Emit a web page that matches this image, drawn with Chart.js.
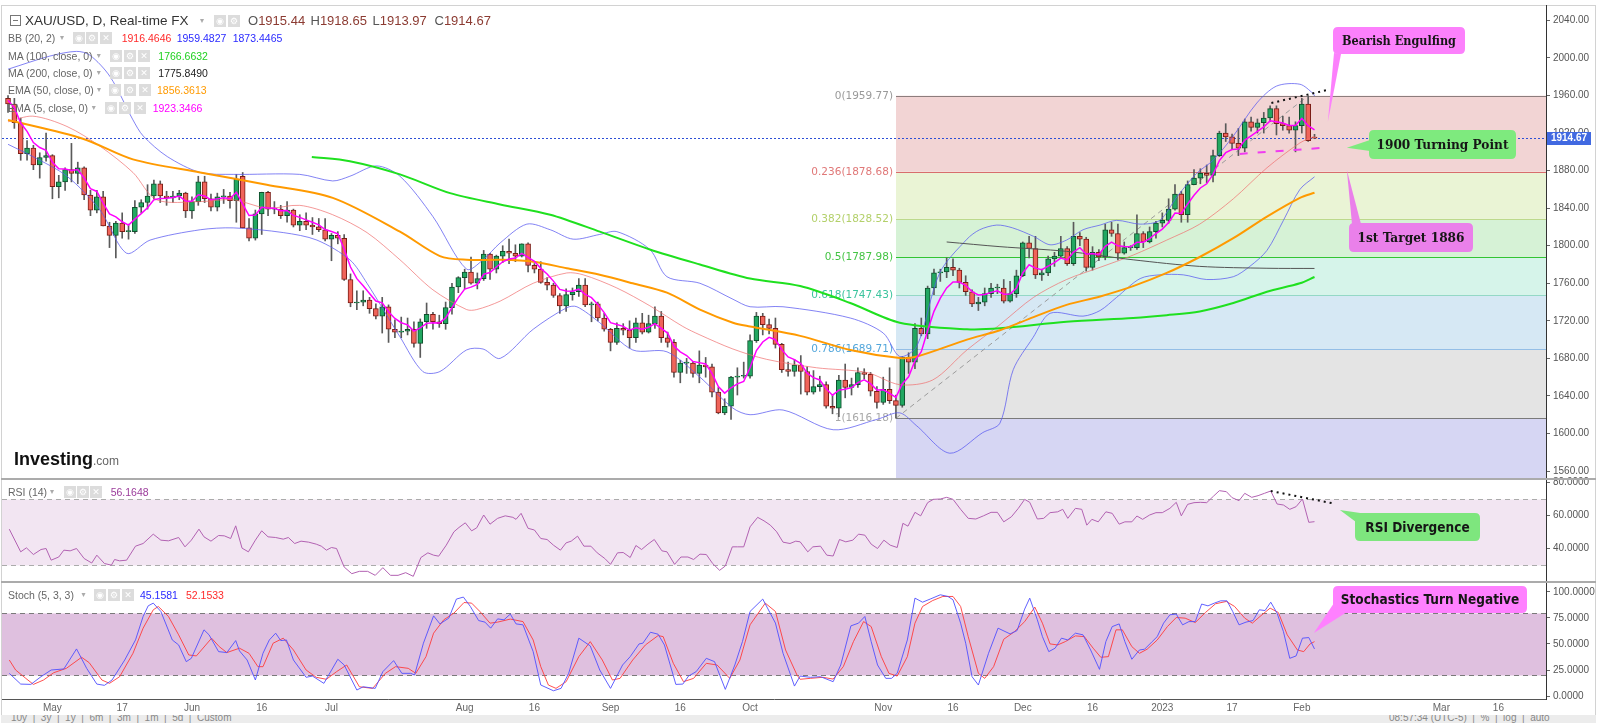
<!DOCTYPE html>
<html>
<head>
<meta charset="utf-8">
<title>XAU/USD Daily</title>
<script src="https://cdn.jsdelivr.net/npm/chart.js@4.4.1/dist/chart.umd.min.js"></script>
<style>
  html, body { margin: 0; padding: 0; background: #fff; }
  body { position: relative; width: 1600px; height: 723px; overflow: hidden; font-family: "Liberation Sans", Arial, sans-serif; }
  canvas { position: absolute; left: 0; }
  .frame { position: absolute; left: 1px; top: 5px; width: 1595px; height: 711px; border: 1px solid #d2d2d2; box-sizing: border-box; }
  .sep { position: absolute; left: 1px; width: 1595px; height: 2px; background: #ababab; }
  .lg { position: absolute; white-space: nowrap; font-size: 10.5px; line-height: 14px; color: #666; }
  .ic { position: absolute; width: 12px; height: 12px; background: #dcdcdc; color: #fff; font-size: 9px; line-height: 12px; text-align: center; font-family: "DejaVu Sans", sans-serif; }
  .dd { position: absolute; font-size: 8px; line-height: 14px; color: #aaa; font-family: "DejaVu Sans", sans-serif; }
  .toolbar { position: absolute; left: 1px; top: 715px; width: 1595px; height: 8px; background: #ececec; overflow: hidden; font-size: 10px; color: #888; }
</style>
</head>
<body>
<div class="frame"></div>
<canvas id="priceChart" width="1600" height="480" style="top:0px"></canvas>
<canvas id="rsiChart" width="1600" height="111" style="top:470px"></canvas>
<canvas id="stochChart" width="1600" height="143" style="top:573px"></canvas>
<div class="sep" style="top:478px"></div>
<div class="sep" style="top:581px"></div>
<div class="toolbar">
  <span style="position:absolute;left:10px;top:-3px">10y &nbsp;|&nbsp; 3y &nbsp;|&nbsp; 1y &nbsp;|&nbsp; 6m &nbsp;|&nbsp; 3m &nbsp;|&nbsp; 1m &nbsp;|&nbsp; 5d &nbsp;|&nbsp; Custom</span>
  <span style="position:absolute;left:1388px;top:-3px">08:57:34 (UTC-5) &nbsp;|&nbsp; % &nbsp;|&nbsp; log &nbsp;|&nbsp; auto</span>
</div>
<script>
// ---------- data: daily candles, 21 Apr 2022 -> 3 Feb 2023 ----------
const dates = [
  '2022-04-21','2022-04-22','2022-04-25','2022-04-26','2022-04-27','2022-04-28','2022-04-29',
  '2022-05-02','2022-05-03','2022-05-04','2022-05-05','2022-05-06','2022-05-09','2022-05-10','2022-05-11','2022-05-12','2022-05-13',
  '2022-05-16','2022-05-17','2022-05-18','2022-05-19','2022-05-20','2022-05-23','2022-05-24','2022-05-25','2022-05-26','2022-05-27','2022-05-30','2022-05-31',
  '2022-06-01','2022-06-02','2022-06-03','2022-06-06','2022-06-07','2022-06-08','2022-06-09','2022-06-10','2022-06-13','2022-06-14','2022-06-15',
  '2022-06-16','2022-06-17','2022-06-20','2022-06-21','2022-06-22','2022-06-23','2022-06-24','2022-06-27','2022-06-28','2022-06-29','2022-06-30',
  '2022-07-01','2022-07-04','2022-07-05','2022-07-06','2022-07-07','2022-07-08','2022-07-11','2022-07-12','2022-07-13','2022-07-14','2022-07-15',
  '2022-07-18','2022-07-19','2022-07-20','2022-07-21','2022-07-22','2022-07-25','2022-07-26','2022-07-27','2022-07-28','2022-07-29',
  '2022-08-01','2022-08-02','2022-08-03','2022-08-04','2022-08-05','2022-08-08','2022-08-09','2022-08-10','2022-08-11','2022-08-12','2022-08-15','2022-08-16',
  '2022-08-17','2022-08-18','2022-08-19','2022-08-22','2022-08-23','2022-08-24','2022-08-25','2022-08-26','2022-08-29','2022-08-30','2022-08-31',
  '2022-09-01','2022-09-02','2022-09-05','2022-09-06','2022-09-07','2022-09-08','2022-09-09','2022-09-12','2022-09-13','2022-09-14','2022-09-15',
  '2022-09-16','2022-09-19','2022-09-20','2022-09-21','2022-09-22','2022-09-23','2022-09-26','2022-09-27','2022-09-28','2022-09-29','2022-09-30',
  '2022-10-03','2022-10-04','2022-10-05','2022-10-06','2022-10-07','2022-10-10','2022-10-11','2022-10-12','2022-10-13','2022-10-14','2022-10-17',
  '2022-10-18','2022-10-19','2022-10-20','2022-10-21','2022-10-24','2022-10-25','2022-10-26','2022-10-27','2022-10-28','2022-10-31',
  '2022-11-01','2022-11-02','2022-11-03','2022-11-04','2022-11-07','2022-11-08','2022-11-09','2022-11-10','2022-11-11','2022-11-14','2022-11-15',
  '2022-11-16','2022-11-17','2022-11-18','2022-11-21','2022-11-22','2022-11-23','2022-11-24','2022-11-25','2022-11-28','2022-11-29','2022-11-30',
  '2022-12-01','2022-12-02','2022-12-05','2022-12-06','2022-12-07','2022-12-08','2022-12-09','2022-12-12','2022-12-13','2022-12-14','2022-12-15',
  '2022-12-16','2022-12-19','2022-12-20','2022-12-21','2022-12-22','2022-12-23','2022-12-26','2022-12-27','2022-12-28','2022-12-29','2022-12-30',
  '2023-01-02','2023-01-03','2023-01-04','2023-01-05','2023-01-06','2023-01-09','2023-01-10','2023-01-11','2023-01-12','2023-01-13','2023-01-16',
  '2023-01-17','2023-01-18','2023-01-19','2023-01-20','2023-01-23','2023-01-24','2023-01-25','2023-01-26','2023-01-27','2023-01-30','2023-01-31',
  '2023-02-01','2023-02-02','2023-02-03'
];

const opens = [
  1957,1951,1931,1898,1904,1886,1894,1896,1863,1868,
  1881,1877,1883,1854,1838,1852,1821,1811,1824,1815,
  1815,1841,1846,1853,1866,1853,1851,1853,1856,1837,
  1847,1868,1850,1841,1852,1853,1848,1874,1819,1808,
  1834,1857,1839,1839,1832,1838,1822,1826,1822,1820,
  1817,1807,1811,1808,1764,1739,1740,1742,1733,1725,
  1735,1711,1708,1709,1711,1696,1719,1727,1719,1717,
  1734,1756,1766,1772,1760,1765,1791,1775,1789,1794,
  1792,1789,1802,1779,1775,1761,1758,1747,1736,1748,
  1751,1758,1737,1738,1723,1711,1697,1712,1710,1702,
  1718,1708,1717,1725,1702,1697,1665,1675,1675,1664,
  1673,1671,1644,1622,1629,1660,1661,1661,1699,1725,
  1716,1712,1695,1668,1666,1673,1666,1644,1650,1652,
  1629,1627,1657,1649,1652,1665,1663,1645,1633,1647,
  1635,1630,1681,1676,1712,1706,1755,1771,1772,1777,
  1774,1761,1751,1738,1740,1749,1755,1755,1741,1749,
  1768,1803,1797,1769,1771,1786,1789,1797,1781,1810,
  1807,1777,1793,1788,1817,1813,1792,1798,1798,1813,
  1804,1815,1824,1827,1839,1855,1833,1865,1872,1877,
  1875,1896,1920,1916,1909,1904,1932,1926,1931,1936,
  1946,1930,1928,1923,1928,1951,1915.44
];
const highs = [
  1960,1957,1936,1912,1907,1899,1920,1897,1875,1883,
  1909,1889,1884,1859,1859,1858,1825,1826,1835,1823,
  1848,1849,1865,1870,1869,1858,1858,1859,1857,1852,
  1874,1874,1855,1856,1860,1857,1876,1878,1829,1838,
  1857,1858,1847,1843,1847,1839,1833,1835,1830,1829,
  1829,1813,1815,1812,1770,1752,1752,1745,1738,1745,
  1737,1721,1724,1723,1719,1722,1739,1729,1726,1740,
  1760,1767,1775,1788,1771,1795,1792,1790,1800,1807,
  1801,1802,1803,1781,1783,1766,1760,1749,1754,1755,
  1765,1765,1740,1740,1728,1712,1718,1717,1720,1723,
  1728,1726,1735,1730,1708,1700,1678,1680,1677,1688,
  1681,1674,1649,1637,1661,1670,1676,1705,1729,1728,
  1722,1723,1696,1676,1679,1683,1671,1667,1661,1655,
  1641,1662,1674,1659,1670,1669,1665,1650,1660,1670,
  1641,1682,1686,1717,1723,1757,1775,1775,1787,1786,
  1776,1768,1753,1745,1755,1760,1759,1764,1762,1774,
  1804,1810,1810,1775,1789,1793,1810,1799,1825,1814,
  1809,1799,1796,1823,1825,1823,1804,1800,1833,1815,
  1820,1826,1835,1850,1865,1858,1869,1881,1882,1886,
  1902,1922,1930,1919,1925,1935,1937,1935,1942,1949,
  1949,1938,1937,1932,1957,1959.77,1918.65
];
const lows = [
  1942,1925,1891,1891,1881,1872,1890,1850,1851,1859,
  1868,1866,1849,1832,1835,1821,1798,1787,1808,1807,
  1813,1835,1839,1850,1846,1843,1846,1849,1830,1829,
  1843,1846,1837,1837,1845,1840,1825,1819,1805,1806,
  1812,1832,1834,1829,1825,1820,1816,1817,1812,1815,
  1805,1784,1802,1763,1735,1732,1736,1728,1722,1707,
  1697,1702,1702,1705,1692,1681,1712,1711,1713,1711,
  1727,1750,1754,1759,1754,1763,1764,1771,1782,1781,
  1783,1788,1772,1771,1760,1753,1745,1728,1730,1742,
  1746,1735,1719,1720,1709,1688,1695,1705,1691,1697,
  1706,1707,1712,1697,1692,1660,1654,1664,1660,1654,
  1660,1639,1621,1620,1615,1641,1659,1659,1697,1705,
  1706,1691,1665,1661,1661,1642,1641,1642,1645,1627,
  1621,1618,1638,1641,1649,1658,1640,1627,1631,1632,
  1616.2,1628,1664,1669,1704,1701,1748,1762,1766,1768,
  1755,1747,1735,1731,1736,1745,1749,1739,1740,1745,
  1767,1787,1765,1763,1768,1778,1787,1779,1779,1800,
  1773,1774,1784,1785,1810,1785,1791,1795,1796,1798,
  1803,1808,1820,1824,1838,1825,1825,1865,1866,1867,
  1868,1895,1911,1903,1896,1900,1922,1920,1920,1932,
  1918,1923,1920,1900,1920,1911,1913.97
];
const closes = [
  1951,1931,1898,1904,1886,1894,1896,1863,1868,1881,
  1877,1883,1854,1838,1852,1821,1811,1824,1815,1815,
  1841,1846,1853,1866,1853,1851,1853,1856,1837,1847,
  1868,1850,1841,1852,1853,1848,1871,1819,1808,1834,
  1857,1839,1839,1832,1838,1822,1826,1822,1820,1817,
  1807,1811,1808,1764,1739,1740,1742,1733,1725,1735,
  1711,1708,1709,1711,1696,1719,1727,1719,1717,1734,
  1756,1766,1772,1760,1765,1791,1775,1789,1794,1792,
  1789,1802,1779,1775,1761,1758,1747,1736,1748,1751,
  1758,1737,1738,1723,1711,1697,1712,1710,1702,1718,
  1708,1717,1725,1702,1697,1665,1675,1675,1664,1673,
  1671,1644,1622,1629,1660,1661,1661,1699,1725,1716,
  1712,1695,1668,1666,1673,1666,1644,1650,1652,1629,
  1627,1657,1649,1652,1665,1663,1645,1633,1647,1635,
  1630,1681,1676,1712,1706,1755,1771,1772,1777,1774,
  1761,1751,1738,1740,1749,1755,1755,1741,1749,1768,
  1803,1797,1769,1771,1786,1789,1797,1781,1810,1807,
  1777,1793,1788,1817,1813,1792,1798,1798,1813,1804,
  1815,1824,1827,1839,1855,1833,1865,1872,1877,1875,
  1896,1920,1916,1909,1904,1932,1926,1931,1936,1946,
  1930,1928,1923,1928,1951,1912,1914.67
];

// EMA(5), one value per candle
const ema5 = [
  1955,1947,1930.7,1921.8,1909.9,1904.6,1901.7,1888.8,1881.9,1881.6,
  1880.1,1881.1,1872.1,1860.7,1857.8,1845.5,1834,1830.7,1825.5,1822,
  1828.3,1834.2,1840.5,1849,1850.3,1850.5,1851.3,1852.9,1847.6,1847.4,
  1854.3,1852.9,1848.9,1849.9,1851,1850,1857,1844.3,1832.2,1832.8,
  1840.9,1840.3,1839.8,1837.2,1837.5,1832.3,1830.2,1827.5,1825,1822.3,
  1817.2,1815.1,1812.7,1796.5,1777.3,1764.9,1757.3,1749.2,1741.1,1739.1,
  1729.7,1722.5,1718,1715.7,1709.1,1712.4,1717.3,1717.9,1717.6,1723.1,
  1734,1744.7,1753.8,1755.9,1758.9,1769.6,1771.4,1777.3,1782.9,1785.9,
  1786.9,1791.9,1787.6,1783.4,1775.9,1769.9,1762.3,1753.5,1751.7,1751.5,
  1753.7,1748.1,1744.7,1737.5,1728.7,1718.1,1716.1,1714.1,1710,1712.7,
  1711.1,1713.1,1717.1,1712,1707,1693,1687,1683,1676.7,1675.5,
  1674,1664,1650,1643,1648.7,1652.8,1655.5,1670,1688.3,1697.5,
  1702.4,1699.9,1689.3,1681.5,1678.7,1674.5,1664.3,1659.5,1657,1647.7,
  1640.8,1646.2,1647.1,1648.8,1654.2,1657.1,1653.1,1646.4,1646.6,1642.7,
  1638.5,1652.7,1660.4,1677.6,1687.1,1709.7,1730.1,1744.1,1755.1,1761.4,
  1761.3,1757.9,1751.2,1747.5,1748,1750.3,1751.9,1748.3,1748.5,1755,
  1771,1779.7,1776.1,1774.4,1778.3,1781.9,1786.9,1784.9,1793.3,1797.9,
  1790.9,1791.6,1790.4,1799.3,1803.9,1799.9,1799.3,1798.9,1803.6,1803.7,
  1807.5,1813,1817.7,1824.8,1834.9,1834.3,1844.5,1853.7,1861.5,1866,
  1876,1890.7,1899.1,1902.4,1902.9,1912.6,1917.1,1921.7,1926.5,1933,
  1932,1930.7,1928.1,1928.1,1935.7,1927.8,1923.3
];

// overlay lines read at sample points: [candle index, value]
const bbUpper = [[0,1988],[6.6,2002],[10.8,2007],[12.9,2003],[16.1,1980],[19.7,1934],[21.3,1917],[25.1,1895],[30.3,1878],[35.5,1876],
  [46,1876],[51.2,1869],[53.9,1874],[58.1,1885],[61.8,1874],[67,1831],[72.3,1775],[74.9,1785],[77.6,1803],[81.8,1823],[85.5,1817],
  [89.1,1807],[93.3,1812],[96,1815],[101.2,1796],[103.9,1767],[109.1,1760],[114.3,1743],[117,1735],[122.2,1735],[132.8,1723],
  [138,1707],[140.6,1682],[143.3,1693],[146.9,1771],[151.2,1807],[153.2,1817],[155.9,1822],[158.4,1819],[161.7,1810],[164.3,1801],
  [166.9,1806],[169.5,1817],[172.2,1822],[174.8,1827],[178.5,1823],[181.6,1827],[184.3,1852],[187.4,1877],[190,1891],[193.1,1916],
  [196.9,1952],[200,1970],[203.7,1972],[205.8,1962],[206,1959.5]];
const bbMid = [[0,1932],[3.9,1938],[9.3,1927],[14.5,1906],[19.7,1878],[23.4,1849],[30.3,1847],[35.5,1849],[40.8,1840],[46,1843],
  [51.2,1833],[56.6,1814],[61.8,1785],[67,1753],[72.3,1732],[73.9,1732],[77.6,1741],[82.8,1760],[88.1,1771],[90.7,1769],[96,1755],
  [101.2,1736],[106.4,1714],[109.1,1705],[114.3,1690],[119.6,1679],[127.5,1670],[135.4,1665],[140.6,1652],[145.8,1657],[151.2,1689],
  [156.4,1716],[161.7,1745],[166.9,1764],[172.2,1777],[177.4,1790],[182.7,1806],[187.9,1823],[193.2,1850],[198.5,1883],[203.7,1909.5],[206,1916.5]];
const bbLower = [[0,1908],[3.9,1895],[9.3,1874],[14.5,1838],[18.7,1792],[22.4,1806],[30.3,1817],[35.5,1819],[43.4,1814],[48.7,1806],
  [53.9,1785],[56.6,1760],[61.8,1703],[65.4,1666],[68.1,1666],[72.3,1689],[74.9,1690],[77.6,1680],[82.8,1711],[88.1,1734],[89.7,1735],
  [93.3,1718],[98.5,1689],[103.9,1687],[109.1,1660],[114.3,1627],[117,1620],[122.2,1625],[130.1,1604],[137,1615],[140.6,1622],
  [143.3,1608],[148.5,1579],[153.7,1601],[156.4,1611],[158.5,1668],[161.6,1702],[164.3,1728],[169.5,1725],[172.2,1731],[174.8,1745],
  [178.5,1765],[181.6,1769],[185.3,1769],[189,1764],[193.2,1767],[195.8,1778],[198.5,1795],[201.1,1827],[203.7,1860],[206,1873.4]];
const ma100 = [[47.9,1894.6],[53.9,1890],[61.8,1876],[69.7,1856],[77.6,1844],[85.5,1833],[93.3,1815],[101.2,1796],[109.1,1780],[117,1765],
  [124.9,1757],[132.8,1739],[140.6,1718],[151.2,1711],[156.4,1712],[166.9,1719],[177.4,1723],[182.7,1726],[187.9,1730],[193.2,1739],
  [198.5,1751],[203.7,1760],[206,1766.7]];
const ma200 = [[148,1804],[156.4,1799],[166.9,1794],[177.4,1785],[187.9,1778],[198.5,1776],[206,1775.8]];
const ema50 = [[0,1934],[11.8,1914],[19.7,1892],[30.3,1878],[40.8,1865],[51.2,1851],[61.8,1815],[68.1,1789],[72.3,1785],[77.6,1785],
  [82.8,1783],[88.1,1776],[93.3,1769],[98.5,1760],[103.9,1750],[109.1,1732],[114.3,1718],[117,1714],[124.9,1704],[132.8,1689],
  [140.6,1680.5],[143.3,1682],[151.2,1700],[156.4,1710],[161.7,1724],[166.9,1737],[172.2,1746],[177.4,1757],[182.7,1771],[187.9,1788],
  [193.2,1808],[198.5,1831],[203.7,1851],[206,1856.4]];

// RSI(14)
const rsi = [[0.2,51.7],[2,38.1],[2.9,40.5],[4,36.5],[5.2,39.5],[6,40.1],[6.8,33.1],[8,35],[8.8,39.1],[9.8,38.7],[10.8,40.1],[12,34.1],
  [13.2,31.4],[14,36.1],[15.2,31.1],[16.3,30.1],[16.8,33.5],[17.6,32.7],[18.7,33.1],[20.1,41.5],[21.3,43.1],[22.9,48.7],[24.1,45.1],
  [25.3,44.7],[26.9,46.7],[27.9,41.1],[28.9,45.1],[30.1,51.7],[30.9,47.1],[32,44.5],[33.2,47.9],[34.1,47.7],[35.1,46.1],[35.9,53.7],
  [36.9,40.3],[37.9,38.1],[39,45.1],[40,50.7],[41,47.1],[42.2,46.7],[43.4,45.7],[44.2,46.7],[45.2,43.1],[46.2,44.5],[47.4,43.9],
  [48.6,42.7],[49.4,41.5],[50.2,39.1],[51,40.7],[51.8,40.1],[53,29],[54.2,25],[55.4,26.4],[56.7,26.4],[57.9,24],[59.1,28.6],[60.3,24],
  [61.5,24],[62.7,25.6],[63.9,23.4],[65.1,34.7],[66.2,37.5],[67.1,36.1],[67.9,35.5],[69.1,42.1],[70.3,50.1],[71.1,52.7],[72.1,55.5],
  [73.1,50.7],[73.9,52.5],[75,60.2],[76,54.7],[77.2,58.2],[78.4,59.7],[79.6,58.8],[80.1,57.6],[80.9,61.2],[82,52.2],[83,51.2],[84,46.1],
  [85,45.5],[86,42.1],[87.1,39.1],[88,43.5],[88.8,44.5],[89.8,47.5],[90.8,41.5],[91.9,41.5],[92.9,37.5],[94.1,34.1],[95,30.6],[96.1,37.5],
  [97,37.7],[98.1,34.7],[99,41.9],[99.9,39.5],[100.9,42.7],[101.9,45.5],[103.1,38.7],[103.9,38.1],[105.1,30.6],[106.1,35],[107.2,35],
  [108.1,33.5],[109.1,36.7],[110.1,36.5],[111.1,31.1],[112.2,27],[113.1,29.6],[114.2,41.1],[115,41.1],[116,41.1],[117,53.1],[118.2,58.8],
  [119.2,56.7],[120.2,54.1],[121.2,50.1],[122.2,43.9],[123.3,43.1],[124.2,44.5],[124.9,44.1],[126.1,38.1],[126.9,41.1],[128.1,41.5],
  [129.1,36.1],[130.1,35.6],[131.1,45.5],[132.1,44.1],[133.2,45.1],[134.1,48.7],[135.1,48.1],[136.1,42.7],[137.1,40.1],[138.1,45.1],
  [139.1,42.1],[140.2,40.7],[141.1,55.2],[141.9,53.5],[143,61.8],[143.9,59.7],[145,67.6],[145.9,69.6],[147,69.8],[148,70.8],[149,69.6],
  [150.2,63.6],[151.4,58.2],[152.6,57.8],[153.8,59.7],[155,61.8],[156,61.8],[157,56.1],[158.2,59.1],[159.3,64.2],[160.3,69.6],[161.1,67.8],
  [162.3,57.8],[163.3,58.2],[164.3,61.6],[165.5,62.1],[166.3,63.6],[167.1,58.2],[168.3,64.2],[169.3,63.6],[170.1,54.1],[170.9,57.6],
  [171.9,56.1],[173.1,62.1],[174.1,61.2],[175.2,54.7],[176.1,56.1],[177.2,56.1],[178,59.6],[178.9,57.6],[180,60.2],[181,61.6],[182,61.6],
  [183.2,64.2],[184.2,67.8],[185,59.7],[186,66.6],[187,67.6],[188,67.8],[189,67.6],[190.1,71.6],[191,74.8],[192.1,74.2],[193,70.6],
  [194.1,68.8],[195,73.2],[196.1,70.8],[197.1,71.8],[198.1,73.2],[199.1,74.6],[200.1,66.8],[201.1,66.2],[202.1,63.6],[203.1,65.2],
  [204.1,69.8],[205.1,55.8],[206,56.2]];

// Stochastic (5,3,3): %K (blue) and %D (red)
const stochK = [[0.2,21.8],[2,11.5],[3.6,11.2],[5.2,18.6],[6.8,25],[8.8,26],[10.8,45.2],[12.4,26.6],[14,11.5],[15.2,10.3],[16.4,15.4],
  [18.4,34.6],[20.1,53.8],[21.3,76.3],[22.1,86.5],[22.9,89.1],[24.1,81.1],[25.9,53.8],[26.9,49],[28.1,33],[28.9,36.2],[30.9,63.5],
  [31.7,58.7],[33.2,42.6],[34.5,41.7],[35.9,53.2],[36.5,43.3],[37.7,34.6],[39,15.4],[40.2,41],[41.2,53.8],[42.2,60.3],[43,53.2],
  [43.9,53.8],[45,34.6],[47,18],[48,19.2],[49.8,12.2],[52,35.3],[53,29.8],[55,5.8],[56,8.9],[57.9,7.4],[59.1,23.4],[60.8,34],[62.1,21.8],
  [63.5,21.8],[64.1,20.2],[65.5,50.7],[67.1,76.9],[68.1,69.2],[69.5,74.7],[70.7,93],[71.8,94.9],[72.9,85.9],[74.2,72.4],[75.2,70.9],
  [76.1,65.1],[77.2,74],[78.2,73.1],[79.2,78.6],[80.1,69.2],[81.2,68.3],[82.8,42.6],[84,10.6],[86,5.1],[87.2,7.4],[88.4,21.8],[90,55.5],
  [91.8,48.1],[93.3,25],[95,7.4],[96.9,29.8],[98.1,37.8],[99.5,50],[100.1,50.7],[101.3,61.2],[102.5,59.3],[103.5,49],[105.3,11.2],
  [106.4,11.5],[107.3,19.2],[108.5,23.4],[110.1,36.2],[111.4,33],[113.1,6.4],[114.6,29.8],[115.8,52.2],[117,81.1],[119,93],[121,70],
  [122.2,41],[124,9.6],[124.9,19.2],[126.5,18],[128.1,18.6],[130.1,13.8],[131.3,29.8],[132.9,67.3],[134.1,69.9],[135.1,76.3],[136.1,52.2],
  [137.1,29.8],[138.4,17],[139.3,17],[140.2,21.8],[141.8,53.8],[143,93.9],[144.2,90],[145.4,93],[147,97.1],[148.2,95.5],[149,92.3],
  [150.2,69.9],[151,50.7],[152,18.6],[153,10.6],[154.6,41],[156.1,65.1],[158,59.6],[159.1,62.8],[160.3,83.4],[161.1,93.9],[162.3,73.1],
  [163.1,57],[164.1,42.6],[165.1,45.9],[166.1,55.5],[167.1,53.8],[168.3,60.3],[169.5,58.7],[170.7,44.2],[172.1,25.6],[173.1,52.2],
  [174.1,66.6],[175.2,69.2],[176.1,52.2],[177.2,35.3],[178.4,44.2],[179.2,44.9],[180.4,52.2],[181.2,57],[182.2,69.9],[183.2,77.9],
  [184.2,78.6],[185.2,68.3],[186.2,71.4],[187.2,71.4],[188.2,88.2],[189.2,86.5],[190.2,89.1],[191.2,91.3],[192.2,91.3],[193.1,81.1],
  [194.1,68.3],[195.2,70.9],[196.3,72.4],[197.3,82.7],[198.2,82],[199.1,90],[200.1,79.5],[201.1,61.8],[202.1,36.2],[203.1,38.5],
  [204.1,55.5],[205.1,56.1],[206,45.2]];
const stochD = [[0.2,34.6],[1.2,25],[2.8,17],[4,11.2],[5.6,15.4],[7.2,22.4],[9.2,26.6],[11.6,37.2],[12.8,32],[14.8,15.4],[16,12.2],
  [17.6,18.6],[19.7,41],[21.3,65.1],[22.9,82.7],[23.7,85.9],[25.3,76.3],[26.9,58.7],[28.5,39.4],[29.7,38.5],[32.1,55.5],[33.3,47.4],
  [34.5,41.7],[36.5,45.9],[38,41],[39.4,28.2],[40.2,28.2],[41.8,50.7],[43.4,55.5],[45,44.2],[47,25],[48.6,18],[50.2,16.1],[51.8,23.4],
  [53.4,29.8],[55.4,8.9],[57.5,7.4],[59.5,21.8],[61.1,28.2],[63.1,26.6],[64.3,21.8],[65.9,37.8],[67.1,60.3],[68.7,73.1],[70.3,79.5],
  [71.9,89.7],[73.1,89.1],[74.4,81.1],[76,69.9],[77.2,70.9],[79.2,73.8],[81.2,71.4],[82.8,53.8],[84,28.2],[85.2,10.6],[86.4,7.4],
  [88,13.8],[90,37.8],[91.8,52.2],[93.7,34.6],[95.3,15.4],[96.5,17],[98.5,34.6],[100.5,49],[102.5,58],[103.3,57],[104.9,31.4],
  [106.5,13.8],[108.1,17],[110.1,31.4],[111.8,29.8],[113.8,17],[115.4,34.6],[117,68.3],[119.4,89.1],[121,81.1],[122.6,44.2],[124.4,20.2],
  [124.9,16.1],[126.5,17],[128.5,18],[130.1,16.3],[131.7,28.2],[133.3,52.2],[134.9,71.4],[136.1,66.6],[137.7,37.8],[138.9,21.8],
  [140.2,19.2],[141.8,37.8],[143,69.9],[144.2,85.9],[145.8,91.6],[147.4,95.5],[149,95.5],[150.2,85.9],[151.4,57],[153,21.8],[154,17],
  [155.4,28.2],[157,54.5],[158.7,61.8],[160.3,71.4],[161.9,85.3],[163.1,69.9],[164.3,50],[165.5,49],[166.7,52.2],[168.3,57.7],[169.7,57],
  [171.1,45.9],[172.3,37.2],[173.5,37.8],[174.7,63.5],[175.7,63.5],[177.2,47.4],[178.4,41],[179.6,44.9],[181.2,53.8],[182.8,66.6],
  [184.2,75.3],[185.6,74.7],[187.2,70.5],[188.8,80.1],[190.4,88.5],[192.1,90.7],[193.4,85.9],[195,74.7],[196.2,69.9],[197.4,76.3],
  [199,84.3],[200.3,80.1],[201.7,58.7],[203.3,44.2],[204.3,42.6],[205.3,50],[206,52.2]];

// Fibonacci retracement (Nov 3 low -> Feb 2 high)
const fibStart = 140, fibEnd = 205;
const fibRatios = ['0', '0.236', '0.382', '0.5', '0.618', '0.786', '1'];
const fibPrices = [1959.77, 1878.68, 1828.52, 1787.98, 1747.43, 1689.71, 1616.18];

// axis ticks
const priceTicks = [1560, 1600, 1640, 1680, 1720, 1760, 1800, 1840, 1880, 1920, 1960, 2000, 2040];
const rsiTicks = [40, 60, 80];
const stochTicks = [0, 25, 50, 75, 100];
const xTickPos = [7, 18, 29, 40, 51, 72, 83, 95, 106, 117, 138, 149, 160, 171, 182, 193, 204, 226, 235];
const xTickText = ['May', '17', 'Jun', '16', 'Jul', 'Aug', '16', 'Sep', '16', 'Oct', 'Nov', '16', 'Dec', '16', '2023', '17', 'Feb', 'Mar', '16'];

// drawn annotations
const supportLine = [[194.2, 1897.8], [207.2, 1904.2]];
const topLine = [[199.2, 1952], [208.1, 1966]];
const rsiLine = [[199.1, 74.6], [208.9, 67.2]];

// ---------- styling ----------
const fibFills = ['#f2d4d4', '#eaf4d5', '#d6f2d6', '#d6f4ea', '#d6e8f4', '#e4e4e4', '#d6d6f3'];
const fibLines = ['#8c7d7d', '#d86d6d', '#bdd98c', '#33c433', '#94d8c6', '#94bee6', '#7a7a7a'];
const fibText = ['#9a9a9a', '#e07878', '#b3d06a', '#45c445', '#3cc49e', '#52a6db', '#a8a8a8'];
const SERIF = '"DejaVu Serif Condensed", "DejaVu Serif", serif';
const SANS_C = '"DejaVu Sans Condensed", "DejaVu Sans", sans-serif';

const priceNotes = [
  { text: 'Bearish Engulfing', boxX: 208.9, boxY: 2033, w: 132, h: 27, tipX: 208.1, tipY: 1931.8, base: [[1, 26], [8, 27]], fill: '#fc80fc', font: SERIF },
  { text: '1900 Turning Point', boxX: 214.6, boxY: 1923.3, w: 147, h: 29, tipX: 211.1, tipY: 1904.4, base: [[1, 10], [1, 21]], fill: '#7eea7e', font: SERIF },
  { text: '1st Target 1886', boxX: 211.4, boxY: 1824.2, w: 124, h: 29, tipX: 211.1, tipY: 1880.6, base: [[3, 1], [12, 1]], fill: '#ea80ea', font: SERIF }
];
const rsiNote = { text: 'RSI Divergence', boxX: 212.4, boxY: 61.4, w: 125, h: 28, tipX: 210, tipY: 63.2, base: [[1, 9], [12, 1]], fill: '#7ee67e', font: SANS_C };
const stochNote = { text: 'Stochastics Turn Negative', boxX: 208.9, boxY: 105.6, w: 194, h: 27, tipX: 205.9, tipY: 60.5, base: [[1, 17], [14, 26]], fill: '#ff80ff', font: SANS_C };

Chart.defaults.font.family = '"Liberation Sans", Arial, sans-serif';
Chart.defaults.font.size = 10;

const X_MIN = -0.95, X_MAX = 242.5;
const pts = arr => arr.map(([x, y]) => ({ x, y }));

function xScale(show) {
  const s = { type: 'linear', min: X_MIN, max: X_MAX, offset: false, display: show };
  if (show) {
    Object.assign(s, {
      afterBuildTicks: sc => { sc.ticks = xTickPos.map(v => ({ value: v })); },
      afterFit: sc => { sc.height = 17; sc.paddingLeft = 0; sc.paddingRight = 0; },
      ticks: { autoSkip: false, maxRotation: 0, color: '#666', padding: 3, callback: (v, i) => xTickText[i] },
      grid: { display: false, drawTicks: false },
      border: { display: true, color: '#555' }
    });
  }
  return s;
}

function yScale(min, max, ticks, digits) {
  return {
    position: 'right', min, max,
    afterBuildTicks: sc => { sc.ticks = ticks.map(v => ({ value: v })); },
    afterFit: sc => { sc.width = 54; sc.paddingTop = 0; sc.paddingBottom = 0; },
    ticks: { color: '#555', padding: 3, callback: v => v.toFixed(digits) },
    grid: { drawOnChartArea: false, drawTicks: true, tickLength: 4, color: '#666' },
    border: { display: true, color: '#333' }
  };
}

function baseOptions(padTop, padBottom, yOpts, showX) {
  return {
    responsive: false, animation: false, events: [],
    layout: { padding: { left: 2, right: 0, top: padTop, bottom: padBottom } },
    plugins: { legend: { display: false }, tooltip: { enabled: false } },
    scales: { x: xScale(showX), y: yOpts }
  };
}

function lineDs(data, color, width, order, tension) {
  return { type: 'line', data, borderColor: color, borderWidth: width, pointRadius: 0,
           tension: tension, fill: false, order };
}

function segment(chart, line, color, width, dash) {
  const { ctx, scales: { x, y } } = chart;
  ctx.save();
  ctx.strokeStyle = color; ctx.lineWidth = width; ctx.setLineDash(dash);
  ctx.beginPath();
  ctx.moveTo(x.getPixelForValue(line[0][0]), y.getPixelForValue(line[0][1]));
  ctx.lineTo(x.getPixelForValue(line[1][0]), y.getPixelForValue(line[1][1]));
  ctx.stroke();
  ctx.restore();
}

function roundBox(ctx, x, y, w, h, r) {
  ctx.beginPath();
  ctx.moveTo(x + r, y);
  ctx.lineTo(x + w - r, y); ctx.quadraticCurveTo(x + w, y, x + w, y + r);
  ctx.lineTo(x + w, y + h - r); ctx.quadraticCurveTo(x + w, y + h, x + w - r, y + h);
  ctx.lineTo(x + r, y + h); ctx.quadraticCurveTo(x, y + h, x, y + h - r);
  ctx.lineTo(x, y + r); ctx.quadraticCurveTo(x, y, x + r, y);
  ctx.closePath();
}

function drawCallout(chart, c) {
  const { ctx, scales: { x, y } } = chart;
  const bx = Math.round(x.getPixelForValue(c.boxX)), by = Math.round(y.getPixelForValue(c.boxY));
  const tx = x.getPixelForValue(c.tipX), ty = y.getPixelForValue(c.tipY);
  ctx.save();
  ctx.fillStyle = c.fill;
  ctx.beginPath();
  ctx.moveTo(bx + c.base[0][0], by + c.base[0][1]);
  ctx.lineTo(tx, ty);
  ctx.lineTo(bx + c.base[1][0], by + c.base[1][1]);
  ctx.closePath();
  ctx.fill();
  roundBox(ctx, bx, by, c.w, c.h, 5);
  ctx.fill();
  let size = 13.5;
  ctx.font = `bold ${size}px ${c.font}`;
  while (ctx.measureText(c.text).width > c.w - 14 && size > 9) {
    size -= 0.5;
    ctx.font = `bold ${size}px ${c.font}`;
  }
  ctx.fillStyle = '#161616';
  ctx.textAlign = 'center'; ctx.textBaseline = 'middle';
  ctx.fillText(c.text, bx + c.w / 2, by + c.h / 2 + 1);
  ctx.restore();
}

// ---------- price pane ----------
const pricePlugin = {
  id: 'pricePane',
  beforeDatasetsDraw(chart) {
    const { ctx, chartArea: a, scales: { x, y } } = chart;
    const x0 = Math.round(x.getPixelForValue(fibStart));
    ctx.save();
    ctx.beginPath(); ctx.rect(a.left, a.top, a.right - a.left, a.bottom - a.top); ctx.clip();
    fibPrices.forEach((p, i) => {
      const top = y.getPixelForValue(p);
      const bot = i < fibPrices.length - 1 ? y.getPixelForValue(fibPrices[i + 1]) : a.bottom;
      ctx.fillStyle = fibFills[i];
      ctx.fillRect(x0, top, a.right - x0, bot - top);
    });
    ctx.font = '10.5px "DejaVu Sans", sans-serif';
    ctx.textAlign = 'right'; ctx.textBaseline = 'middle';
    fibPrices.forEach((p, i) => {
      const py = Math.round(y.getPixelForValue(p)) + 0.5;
      ctx.strokeStyle = fibLines[i]; ctx.lineWidth = 1;
      ctx.beginPath(); ctx.moveTo(x0, py); ctx.lineTo(a.right, py); ctx.stroke();
      ctx.fillStyle = fibText[i];
      ctx.fillText(fibRatios[i] + '(' + p.toFixed(2) + ')', x0 - 3, py);
    });
    // trend line of the retracement
    ctx.setLineDash([5, 4]); ctx.strokeStyle = '#9c9c9c';
    ctx.beginPath();
    ctx.moveTo(x.getPixelForValue(fibStart), y.getPixelForValue(fibPrices[6]));
    ctx.lineTo(x.getPixelForValue(fibEnd), y.getPixelForValue(fibPrices[0]));
    ctx.stroke();
    // last price line
    const last = closes[closes.length - 1];
    const ly = Math.round(y.getPixelForValue(last)) + 0.5;
    ctx.setLineDash([2, 2]); ctx.strokeStyle = '#2d4fd6';
    ctx.beginPath(); ctx.moveTo(a.left, ly); ctx.lineTo(a.right, ly); ctx.stroke();
    ctx.restore();
  },
  afterDatasetsDraw(chart) {
    segment(chart, supportLine, '#f03cf0', 2, [8, 10]);
    segment(chart, topLine, '#111', 2, [2, 4]);
    priceNotes.forEach(n => drawCallout(chart, n));
  },
  afterDraw(chart) {
    const { ctx, chartArea: a, scales: { y } } = chart;
    const last = closes[closes.length - 1];
    const ly = Math.round(y.getPixelForValue(last));
    ctx.save();
    ctx.fillStyle = '#4169e1';
    ctx.fillRect(a.right + 1, ly - 6, 44, 13);
    ctx.fillStyle = '#fff';
    ctx.font = 'bold 10px "Liberation Sans", Arial, sans-serif';
    ctx.textAlign = 'center'; ctx.textBaseline = 'middle';
    ctx.fillText(last.toFixed(2), a.right + 23, ly + 0.5);
    ctx.restore();
  }
};

const upColor = '#22a761', downColor = '#f0645a';
const bullish = closes.map((c, i) => c >= opens[i]);

new Chart(document.getElementById('priceChart'), {
  type: 'bar',
  data: {
    datasets: [
      lineDs(pts(bbUpper), 'rgba(90,90,240,0.75)', 1, 6, 0.3),
      lineDs(pts(bbLower), 'rgba(90,90,240,0.75)', 1, 6, 0.3),
      lineDs(pts(bbMid), 'rgba(240,110,110,0.7)', 1, 5, 0.3),
      lineDs(pts(ma200), '#555', 1, 4, 0.3),
      lineDs(pts(ma100), '#1fe01f', 2, 3, 0.3),
      lineDs(pts(ema50), '#ff9a00', 2, 2, 0.3),
      lineDs(ema5.map((v, i) => ({ x: i, y: v })), '#ff00ff', 1.5, 1, 0),
      {
        type: 'bar', order: 11, grouped: false, barThickness: 1,
        data: lows.map((l, i) => ({ x: i, y: [l, highs[i]] })),
        backgroundColor: '#5a5a5a', borderWidth: 0
      },
      {
        type: 'bar', order: 10, grouped: false, barThickness: 5, minBarLength: 1,
        data: opens.map((o, i) => ({ x: i, y: [o, closes[i]] })),
        backgroundColor: bullish.map(b => b ? upColor : downColor),
        borderColor: bullish.map(b => b ? '#0f4f2c' : '#7a1d16'),
        borderWidth: 1, borderSkipped: false
      }
    ]
  },
  options: baseOptions(5, 2, yScale(1552.6, 2056.4, priceTicks, 2), false),
  plugins: [pricePlugin]
});

// ---------- oscillator panes ----------
function bandPlugin(lo, hi, fill, dashColor, extra) {
  return {
    id: 'band',
    beforeDatasetsDraw(chart) {
      const { ctx, chartArea: a, scales: { y } } = chart;
      const yHi = Math.round(y.getPixelForValue(hi)) + 0.5, yLo = Math.round(y.getPixelForValue(lo)) + 0.5;
      ctx.save();
      ctx.fillStyle = fill;
      ctx.fillRect(a.left, yHi, a.right - a.left, yLo - yHi);
      ctx.strokeStyle = dashColor; ctx.lineWidth = 1; ctx.setLineDash([5, 4]);
      [yHi, yLo].forEach(p => { ctx.beginPath(); ctx.moveTo(a.left, p); ctx.lineTo(a.right, p); ctx.stroke(); });
      ctx.restore();
    },
    afterDatasetsDraw(chart) { extra(chart); }
  };
}

new Chart(document.getElementById('rsiChart'), {
  type: 'line',
  data: { datasets: [lineDs(pts(rsi), '#b262b2', 1, 0, 0)] },
  options: baseOptions(10, 0, yScale(20.6, 81.2, rsiTicks, 4), false),
  plugins: [bandPlugin(30, 70, '#f2e5f2', '#ababab', chart => {
    segment(chart, rsiLine, '#111', 2, [2, 4]);
    drawCallout(chart, rsiNote);
  })]
});

new Chart(document.getElementById('stochChart'), {
  type: 'line',
  data: { datasets: [
    lineDs(pts(stochD), 'rgba(255,60,60,0.9)', 1, 1, 0),
    lineDs(pts(stochK), 'rgba(80,80,255,0.9)', 1, 0, 0)
  ] },
  options: baseOptions(10, 0, yScale(-2.8, 108.4, stochTicks, 4), true),
  plugins: [bandPlugin(20, 80, '#dfc0df', '#7a7a7a', chart => drawCallout(chart, stochNote))]
});

// ---------- legend texts ----------
function addDiv(cls, text, left, cy, style) {
  const d = document.createElement('div');
  d.className = cls;
  d.textContent = text;
  d.style.left = left + 'px';
  d.style.top = (cy - 7) + 'px';
  Object.assign(d.style, style || {});
  document.body.appendChild(d);
  return d;
}
const iconGlyphs = ['\u25C9', '\u2699', '\u2715'];
function icons(xs, cy) {
  xs.forEach((x, k) => {
    const d = addDiv('ic', iconGlyphs[k], x, cy);
    d.style.top = (cy - 6) + 'px';
  });
}

// title row
const sq = document.createElement('div');
Object.assign(sq.style, { position: 'absolute', left: '10px', top: '15px', width: '11px', height: '11px', border: '1px solid #777', boxSizing: 'border-box' });
const sqLine = document.createElement('div');
Object.assign(sqLine.style, { position: 'absolute', left: '2px', top: '4px', width: '5px', height: '1px', background: '#777' });
sq.appendChild(sqLine);
document.body.appendChild(sq);
addDiv('lg', 'XAU/USD, D, Real-time FX', 25, 21, { fontSize: '13.5px', color: '#333', lineHeight: '14px' });
addDiv('dd', '\u25BE', 200, 21);
icons([214, 228], 21);
[['O', '1915.44', 248], ['H', '1918.65', 310.5], ['L', '1913.97', 372.5], ['C', '1914.67', 434.5]].forEach(([k, v, x]) => {
  const d = addDiv('lg', k, x, 21, { fontSize: '13px', color: '#555' });
  const s = document.createElement('span');
  s.textContent = v;
  s.style.color = '#8c3b32';
  d.appendChild(s);
});

const legendRows = [
  { cy: 38.3, name: 'BB (20, 2)', dd: 60, ic: [73, 86, 100], vals: [['1916.4646', 121.7, '#ff2a2a'], ['1959.4827', 176.7, '#2a2aff'], ['1873.4465', 232.7, '#2a2aff']] },
  { cy: 55.7, name: 'MA (100, close, 0)', dd: 96.7, ic: [110, 124, 138], vals: [['1766.6632', 158.3, '#1fd01f']] },
  { cy: 73, name: 'MA (200, close, 0)', dd: 96.7, ic: [110, 124, 138], vals: [['1775.8490', 158.3, '#222']] },
  { cy: 90.3, name: 'EMA (50, close, 0)', dd: 97, ic: [109, 124, 139], vals: [['1856.3613', 157, '#ff9a00']] },
  { cy: 107.7, name: 'EMA (5, close, 0)', dd: 91.7, ic: [105, 119, 134], vals: [['1923.3466', 152.7, '#ff00ff']] },
  { cy: 492, name: 'RSI (14)', dd: 50, ic: [64, 77, 90], vals: [['56.1648', 110.7, '#9b3c9b']] },
  { cy: 595, name: 'Stoch (5, 3, 3)', dd: 81.6, ic: [94, 108, 122], vals: [['45.1581', 140, '#2a2aff'], ['52.1533', 186, '#ff2a2a']] }
];
legendRows.forEach(r => {
  addDiv('lg', r.name, 8, r.cy);
  addDiv('dd', '\u25BE', r.dd, r.cy);
  icons(r.ic, r.cy);
  r.vals.forEach(([t, x, c]) => addDiv('lg', t, x, r.cy, { color: c }));
});

// watermark
const logo = addDiv('lg', 'Investing', 14, 459, { fontSize: '18px', fontWeight: 'bold', color: '#111', lineHeight: '20px', top: '449px' });
const dotcom = document.createElement('span');
dotcom.textContent = '.com';
Object.assign(dotcom.style, { fontSize: '12px', fontWeight: 'normal', color: '#666' });
logo.appendChild(dotcom);
</script>
</body>
</html>
